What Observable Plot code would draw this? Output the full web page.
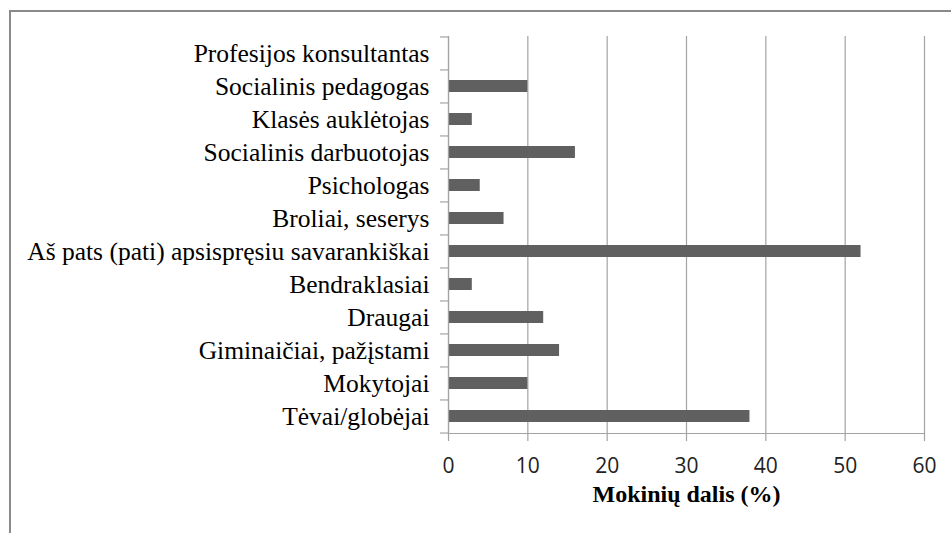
<!DOCTYPE html>
<html><head><meta charset="utf-8">
<script src="https://cdn.jsdelivr.net/npm/d3@7"></script>
<script src="https://cdn.jsdelivr.net/npm/@observablehq/plot@0.6"></script>
<style>
body{margin:0;background:#fff;width:951px;height:533px;overflow:hidden;position:relative}
#frame{position:absolute;left:9px;top:10px;width:1000px;height:1000px;border-left:2px solid #8a8a8a;border-top:2px solid #8a8a8a;pointer-events:none;box-sizing:border-box}
#chart{position:absolute;left:0;top:0}
</style></head><body><div id="chart"></div><div id="frame"></div>
<script>
const categories = ["Profesijos konsultantas", "Socialinis pedagogas", "Klasės auklėtojas", "Socialinis darbuotojas", "Psichologas", "Broliai, seserys", "Aš pats (pati) apsispręsiu savarankiškai", "Bendraklasiai", "Draugai", "Giminaičiai, pažįstami", "Mokytojai", "Tėvai/globėjai"];
const values = [0, 10, 3, 16, 4, 7, 52, 3, 12, 14, 10, 38];
const xTicks = [0, 10, 20, 30, 40, 50, 60];
const xLabel = "Mokinių dalis (%)";

const data = categories.map((c, i) => ({category: c, value: values[i]}));
const W = 951, H = 533, mT = 36, mB = 100, mL = 448, mR = 27;
const step = (H - mT - mB) / categories.length;
const lineColor = "#a3a3a3";

const chart = Plot.plot({
  width: W, height: H,
  marginTop: mT, marginBottom: mB, marginLeft: mL, marginRight: mR,
  style: {background: "transparent"},
  x: {domain: [0, 60]},
  y: {domain: categories, paddingInner: 0.636, paddingOuter: 0.318},
  marks: [
    Plot.gridX(xTicks, {stroke: lineColor, strokeOpacity: 1, strokeWidth: 1.2}),
    Plot.barX(data, {x: "value", y: "category", fill: "#606060"}),
    Plot.frame({anchor: "left", stroke: lineColor, strokeWidth: 1.2}),
    Plot.frame({anchor: "bottom", stroke: lineColor, strokeWidth: 1.2}),
    Plot.axisX(xTicks, {tickSize: 8, tickPadding: 17, stroke: lineColor, strokeWidth: 1.2, fontSize: 21, fontFamily: "Open Sans", fill: "#222", label: null}),
    Plot.axisY({tickSize: 0, tickPadding: 19, fontSize: 25.5, fontFamily: "Liberation Serif", fill: "#000", label: null}),
    Plot.axisY({text: null, tickSize: 8, dy: -step / 2, stroke: lineColor, strokeWidth: 1.2, label: null}),
    Plot.axisY([categories[categories.length - 1]], {text: null, tickSize: 8, dy: step / 2, stroke: lineColor, strokeWidth: 1.2, label: null}),
    Plot.text([xLabel], {text: d => d, frameAnchor: "bottom", dy: 68, fontSize: 24, fontWeight: "bold", fontFamily: "Liberation Serif", fill: "#000"})
  ]
});
document.getElementById("chart").appendChild(chart);
</script>
</body></html>
